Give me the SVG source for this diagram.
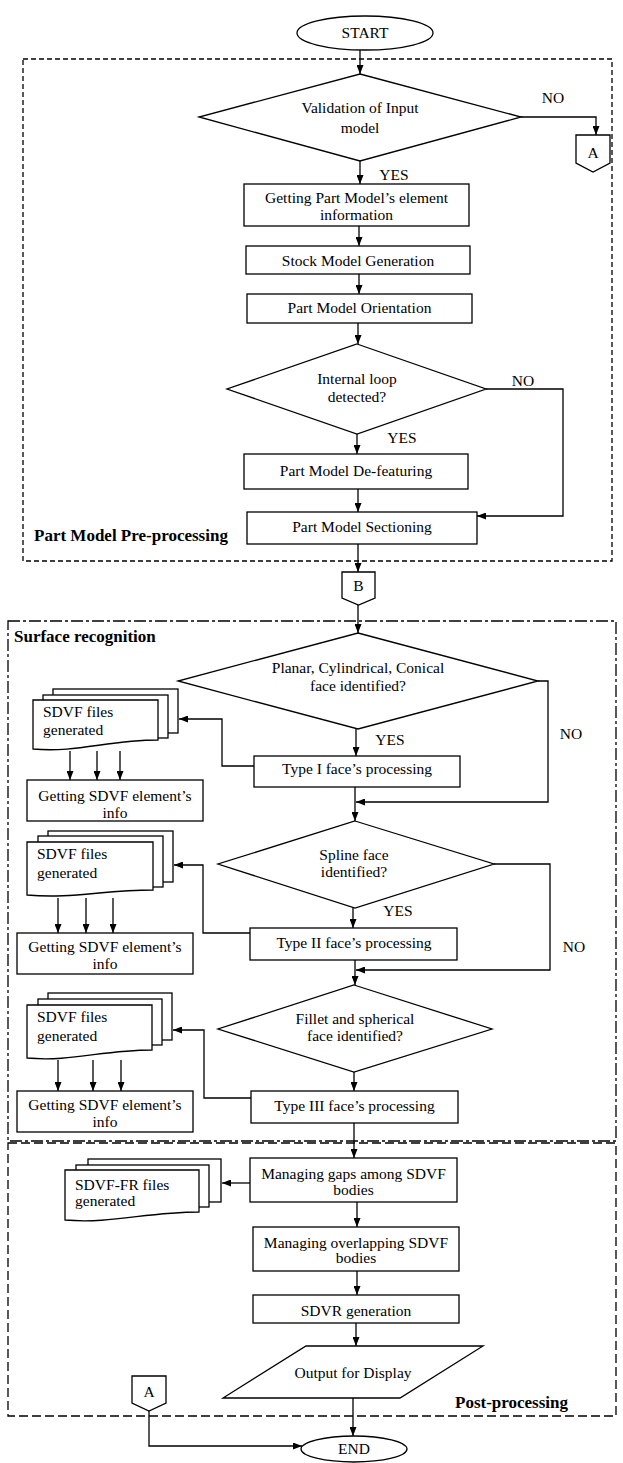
<svg xmlns="http://www.w3.org/2000/svg" width="623" height="1463" viewBox="0 0 623 1463">
<style>
.n{fill:#fff;stroke:#000;stroke-width:1.3}
.c{fill:none;stroke:#000;stroke-width:1.3;marker-end:url(#ah)}
.t{font-family:"Liberation Serif","Times New Roman",serif;font-size:15.5px;text-anchor:middle;fill:#000}
.s{text-anchor:start}
.b{font-family:"Liberation Serif","Times New Roman",serif;font-size:17px;font-weight:bold;fill:#000}
.g{fill:none;stroke:#000;stroke-width:1.3}
.pre{stroke-dasharray:5,3}
.sur{stroke-dasharray:12,3,3,3}
.post{stroke-dasharray:9,4}
</style>
<defs>
<marker id="ah" markerUnits="userSpaceOnUse" markerWidth="9" markerHeight="7" refX="9" refY="3.5" orient="auto">
<path d="M0,0 L9,3.5 L0,7 z" fill="#000"/>
</marker>
</defs>

<g id="regions">
<rect id="pre-processing" class="g pre" x="23" y="59" width="589" height="502"/>
<rect id="surface-recognition" class="g sur" x="8" y="621" width="608" height="520"/>
<rect id="post-processing" class="g post" x="8" y="1143" width="608" height="273"/>
<text class="b" x="34" y="541">Part Model Pre-processing</text>
<text class="b" x="14" y="642">Surface recognition</text>
<text class="b" x="455" y="1408">Post-processing</text>
</g>

<g id="connectors">
<path class="c" d="M360,50 V74"/>
<path class="c" d="M521,117 H596 V135"/>
<path class="c" d="M360,161 V184"/>
<path class="c" d="M359,226 V246"/>
<path class="c" d="M359,274 V294"/>
<path class="c" d="M358,323 V344"/>
<path class="c" d="M357,434 V454"/>
<path class="c" d="M486,389 H563 V516 H477"/>
<path class="c" d="M358,489 V512"/>
<path class="c" d="M358,544 V572"/>
<path class="c" d="M358,605 V633"/>
<path class="c" d="M356,729 V756"/>
<path class="c" d="M538,681 H548 V802 H356"/>
<path class="c" d="M355,787 V821"/>
<path class="c" d="M254,766 H222 V719 H179"/>
<path class="c" d="M70,751 V780"/>
<path class="c" d="M97,751 V780"/>
<path class="c" d="M120,751 V780"/>
<path class="c" d="M353,908 V928"/>
<path class="c" d="M494,864 H550 V970 H356"/>
<path class="c" d="M355,960 V985"/>
<path class="c" d="M250,933 H203 V865 H174"/>
<path class="c" d="M58,898 V933"/>
<path class="c" d="M86,898 V933"/>
<path class="c" d="M113,898 V933"/>
<path class="c" d="M354,1072 V1091"/>
<path class="c" d="M251,1098 H204 V1030 H173"/>
<path class="c" d="M58,1060 V1091"/>
<path class="c" d="M93,1060 V1091"/>
<path class="c" d="M121,1060 V1091"/>
<path class="c" d="M354,1123 V1158"/>
<path class="c" d="M250,1183 H222"/>
<path class="c" d="M357,1202 V1227"/>
<path class="c" d="M357,1271 V1295"/>
<path class="c" d="M356,1323 V1346"/>
<path class="c" d="M353,1398 V1436"/>
<path class="c" d="M149,1411 V1446 H302"/>
<text class="t" x="553" y="103">NO</text>
<text class="t" x="394" y="180">YES</text>
<text class="t" x="523" y="386">NO</text>
<text class="t" x="402" y="443">YES</text>
<text class="t" x="390" y="745">YES</text>
<text class="t" x="571" y="739">NO</text>
<text class="t" x="398" y="916">YES</text>
<text class="t" x="574" y="952">NO</text>
</g>

<g id="start">
<ellipse class="n" cx="365" cy="33" rx="68" ry="17"/>
<text class="t" x="365" y="38">START</text>
</g>
<g id="validation">
<polygon class="n" points="360,74 521,117 360,161 199,117"/>
<text class="t" x="360" y="113">Validation of Input</text>
<text class="t" x="360" y="133">model</text>
</g>
<g id="connector-a-top">
<polygon class="n" points="576,135 610,135 610,163 593,172 576,163"/>
<text class="t" x="593" y="158">A</text>
</g>
<g id="getting-part">
<rect class="n" x="244" y="184" width="225" height="42"/>
<text class="t" x="356.5" y="203">Getting Part Model’s element</text>
<text class="t" x="356.5" y="220">information</text>
</g>
<g id="stock">
<rect class="n" x="246" y="246" width="224" height="28"/>
<text class="t" x="358" y="266">Stock Model Generation</text>
</g>
<g id="orientation">
<rect class="n" x="247" y="294" width="225" height="29"/>
<text class="t" x="359.5" y="313">Part Model Orientation</text>
</g>
<g id="internal-loop">
<polygon class="n" points="357,344 486,389 357,434 227,389"/>
<text class="t" x="357" y="384">Internal loop</text>
<text class="t" x="357" y="402">detected?</text>
</g>
<g id="defeaturing">
<rect class="n" x="244" y="454" width="224" height="35"/>
<text class="t" x="356" y="476">Part Model De-featuring</text>
</g>
<g id="sectioning">
<rect class="n" x="247" y="512" width="230" height="32"/>
<text class="t" x="362" y="532">Part Model Sectioning</text>
</g>
<g id="connector-b">
<polygon class="n" points="342,572 375,572 375,598 358.5,605 342,598"/>
<text class="t" x="358.5" y="591">B</text>
</g>
<g id="planar">
<polygon class="n" points="358,633 538,681 358,729 178,681"/>
<text class="t" x="358" y="673">Planar, Cylindrical, Conical</text>
<text class="t" x="358" y="691">face identified?</text>
</g>
<g id="type1">
<rect class="n" x="254" y="756" width="206" height="31"/>
<text class="t" x="357" y="774">Type I face’s processing</text>
</g>
<g id="sdvf-files-1">
<rect class="n" x="53" y="689" width="125" height="44"/>
<rect class="n" x="43" y="695" width="125" height="43"/>
<path class="n" d="M33,700 H158 V740 C108,740 77,753 33,749 Z"/>
<text class="t s" x="43" y="717">SDVF files</text>
<text class="t s" x="43" y="735">generated</text>
</g>
<g id="sdvf-info-1">
<rect class="n" x="27" y="780" width="176" height="41"/>
<text class="t" x="115" y="801">Getting SDVF element’s</text>
<text class="t" x="115" y="818">info</text>
</g>
<g id="spline">
<polygon class="n" points="355,821 494,864 355,908 218,864"/>
<text class="t" x="354" y="860">Spline face</text>
<text class="t" x="354" y="877">identified?</text>
</g>
<g id="type2">
<rect class="n" x="250" y="928" width="207" height="32"/>
<text class="t" x="354" y="948">Type II face’s processing</text>
</g>
<g id="sdvf-files-2">
<rect class="n" x="48" y="831" width="125" height="51"/>
<rect class="n" x="38" y="836" width="125" height="51"/>
<path class="n" d="M27,842 H153 V890 C103,890 72,899 27,895 Z"/>
<text class="t s" x="37" y="859">SDVF files</text>
<text class="t s" x="37" y="878">generated</text>
</g>
<g id="sdvf-info-2">
<rect class="n" x="17" y="933" width="176" height="41"/>
<text class="t" x="105" y="952">Getting SDVF element’s</text>
<text class="t" x="105" y="969">info</text>
</g>
<g id="fillet">
<polygon class="n" points="354,985 492,1029 354,1072 218,1029"/>
<text class="t" x="355" y="1024">Fillet and spherical</text>
<text class="t" x="355" y="1041">face identified?</text>
</g>
<g id="type3">
<rect class="n" x="251" y="1091" width="207" height="32"/>
<text class="t" x="354.5" y="1111">Type III face’s processing</text>
</g>
<g id="sdvf-files-3">
<rect class="n" x="48" y="993" width="124" height="47"/>
<rect class="n" x="38" y="999" width="124" height="46"/>
<path class="n" d="M27,1005 H152 V1050 C102,1050 72,1062 27,1058 Z"/>
<text class="t s" x="37" y="1022">SDVF files</text>
<text class="t s" x="37" y="1041">generated</text>
</g>
<g id="sdvf-info-3">
<rect class="n" x="17" y="1091" width="176" height="41"/>
<text class="t" x="105" y="1110">Getting SDVF element’s</text>
<text class="t" x="105" y="1127">info</text>
</g>
<g id="managing-gaps">
<rect class="n" x="250" y="1158" width="207" height="44"/>
<text class="t" x="353.5" y="1179">Managing gaps among SDVF</text>
<text class="t" x="353.5" y="1195">bodies</text>
</g>
<g id="sdvf-fr-files">
<rect class="n" x="88" y="1159" width="133" height="43"/>
<rect class="n" x="76" y="1165" width="133" height="42"/>
<path class="n" d="M65,1170 H199 V1212 C146,1212 112,1224 65,1220 Z"/>
<text class="t s" x="75" y="1190">SDVF-FR files</text>
<text class="t s" x="75" y="1206">generated</text>
</g>
<g id="managing-overlapping">
<rect class="n" x="253" y="1227" width="206" height="44"/>
<text class="t" x="356" y="1248">Managing overlapping SDVF</text>
<text class="t" x="356" y="1263">bodies</text>
</g>
<g id="sdvr">
<rect class="n" x="253" y="1295" width="206" height="28"/>
<text class="t" x="356" y="1316">SDVR generation</text>
</g>
<g id="output">
<polygon class="n" points="306,1346 483,1346 400,1398 223,1398"/>
<text class="t" x="353" y="1378">Output for Display</text>
</g>
<g id="connector-a-bottom">
<polygon class="n" points="132,1376 166,1376 166,1403 149,1411 132,1403"/>
<text class="t" x="149" y="1397">A</text>
</g>
<g id="end">
<ellipse class="n" cx="354" cy="1449" rx="53" ry="13"/>
<text class="t" x="354" y="1454">END</text>
</g>
</svg>
